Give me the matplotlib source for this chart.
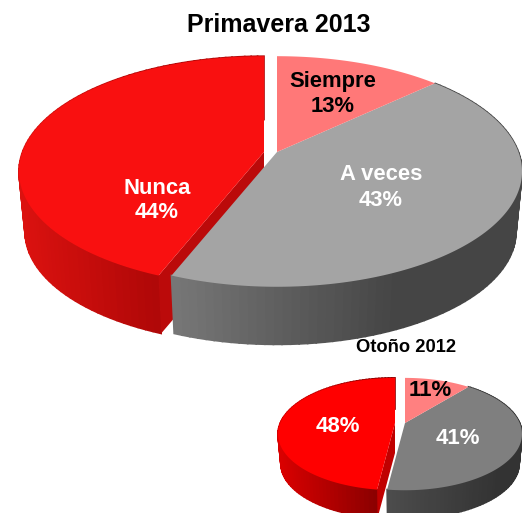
from matplotlib import pyplot as plt
import numpy as np

plt.rcParams['font.family'] = ['Liberation Sans', 'DejaVu Sans']

# Survey shares, clockwise from 12 o'clock
categories = ["Siempre", "A veces", "Nunca"]
values_spring = [13, 43, 44]
values_autumn = [11, 41, 48]
title_spring = "Primavera 2013"
title_autumn = "Otoño 2012"

fig = plt.figure(figsize=(5.22, 5.13), dpi=100)
ax = fig.add_axes([0, 0, 1, 1])
ax.set_xlim(0, 522)
ax.set_ylim(513, 0)
ax.axis("off")


# Perspective map of the unit circle, phi is clockwise from the top
def project(phi, cx, cy, a, b, k, scale=1.0):
    x = np.sin(phi)
    y = np.cos(phi)
    d = 1 + k * y
    return cx + scale * a * x / d, cy - scale * b * y / d


# Side wall of one slice, shaded in small steps from left to right
def side(p0, p1, cx, cy, a, b, k, depth, left, right, c1, c2, z):
    phi = np.linspace(p0, p1, 90)
    x1, y1 = project(phi, cx, cy, a, b, k)
    x2, y2 = project(phi, cx, cy + depth, a, b, k, 0.975)
    for i in range(len(phi) - 1):
        t = np.clip((x1[i] - left) / (right - left), 0, 1)
        col = tuple((1 - t) * np.array(c1) + t * np.array(c2))
        ax.fill([x1[i], x1[i + 1], x2[i + 1], x2[i]], [y1[i], y1[i + 1], y2[i + 1], y2[i]],
                color=col, lw=1.2, zorder=z)


def top(p0, p1, cx, cy, a, b, k, col, z):
    phi = np.linspace(p0, p1, 200)
    x, y = project(phi, cx, cy, a, b, k)
    ax.fill(np.r_[cx, x], np.r_[cy, y], color=col, lw=0, zorder=z)


def draw_pie(values, cx, cy, a, b, k, depth, shift, cols):
    edges = 2 * np.pi * np.cumsum([0] + values) / sum(values)
    # Nunca sits to the left of the other two slices
    rx = cx - shift
    # its cut face shows in the gap
    x1, y1 = project(edges[2], rx, cy, a, b, k)
    x2, y2 = project(edges[2], rx, cy + depth, a, b, k, 0.975)
    side(edges[2], edges[3], rx, cy, a, b, k, depth, cols["red_l"][0], cols["red_l"][1],
         cols["red_side"][0], cols["red_side"][1], 1)
    ax.fill([rx, rx, x2, x1], [cy, cy + depth, y2, y1], color=cols["red_cut"], lw=0, zorder=2)
    top(edges[2], edges[3], rx, cy, a, b, k, cols["red"], 3)
    side(edges[1], edges[2], cx, cy, a, b, k, depth, cols["gray_l"][0], cols["gray_l"][1],
         cols["gray_side"][0], cols["gray_side"][1], 4)
    top(edges[1], edges[2], cx, cy, a, b, k, cols["gray"], 5)
    top(edges[0], edges[1], cx, cy, a, b, k, cols["pink"], 5)


big_cols = {"red": "#f91010", "pink": "#ff7878", "gray": "#a4a4a4", "red_cut": "#bb0a0a",
            "red_side": ((0.86, 0.07, 0.06), (0.69, 0.03, 0.03)), "red_l": (20, 157),
            "gray_side": ((0.47, 0.47, 0.47), (0.27, 0.27, 0.27)), "gray_l": (172, 400)}
small_cols = {"red": "#ff0000", "pink": "#ff8080", "gray": "#7f7f7f", "red_cut": "#c00000",
              "red_side": ((0.85, 0.0, 0.0), (0.55, 0.0, 0.0)), "red_l": (280, 376),
              "gray_side": ((0.30, 0.30, 0.30), (0.20, 0.20, 0.20)), "gray_l": (388, 500)}

draw_pie(values_spring, 277, 152, 241.5, 112, 0.169, 61, 13, big_cols)
draw_pie(values_autumn, 405, 423, 114.7, 54, 0.197, 30, 10, small_cols)


def label(x, y, s, col, size):
    ax.text(x, y, s, color=col, fontsize=size, fontweight="bold", ha="center", va="center", zorder=10)


label(279, 25, title_spring, "black", 18)
label(406, 348, title_autumn, "black", 13.2)

label(333, 82, categories[0], "black", 15.8)
label(333, 106, "{}%".format(values_spring[0]), "black", 15.8)
label(381, 175, categories[1], "white", 15.8)
label(381, 200, "{}%".format(values_spring[1]), "white", 15.8)
label(157, 188, categories[2], "white", 15.8)
label(157, 213, "{}%".format(values_spring[2]), "white", 15.8)

label(430, 390, "{}%".format(values_autumn[0]), "black", 16)
label(458, 438, "{}%".format(values_autumn[1]), "white", 16)
label(338, 426, "{}%".format(values_autumn[2]), "white", 16)

fig.savefig("out.png", dpi=100, facecolor="white")
